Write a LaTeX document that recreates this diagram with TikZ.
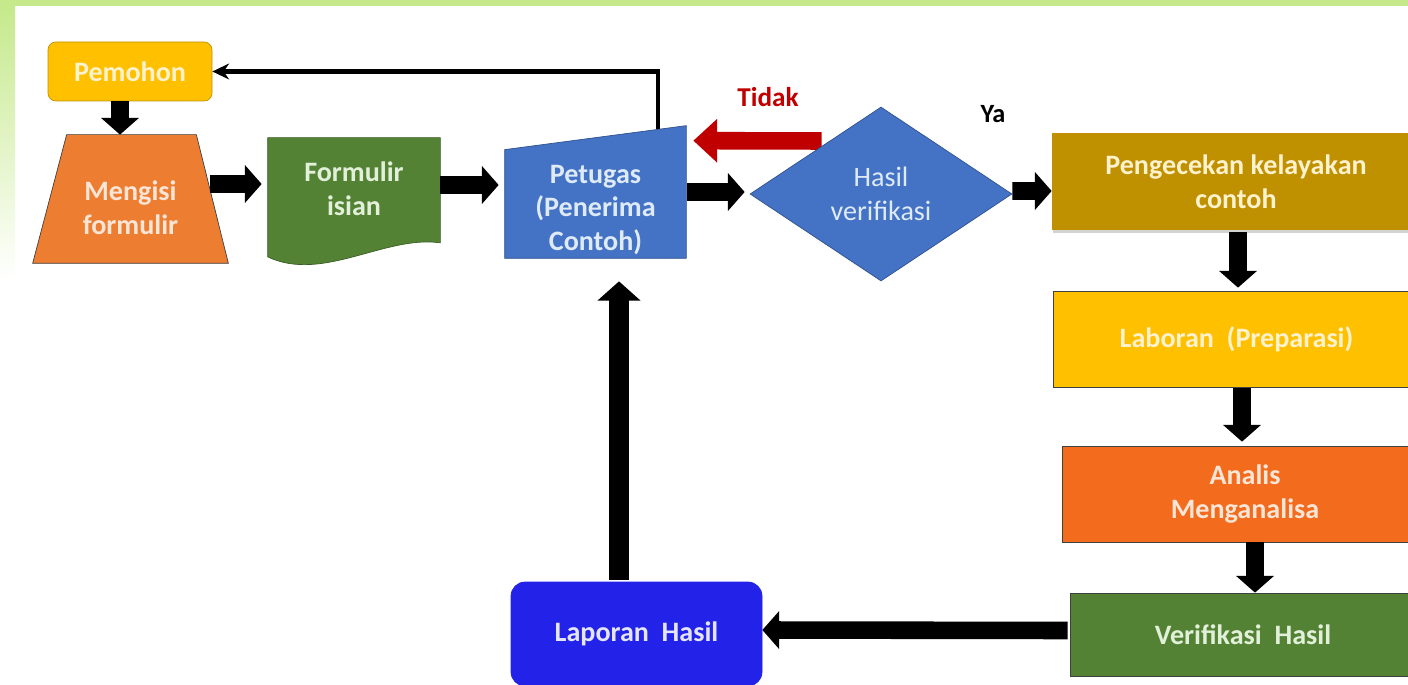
\documentclass[tikz,border=0pt]{standalone}
\usepackage{fontspec}
\setmainfont{Carlito}
\usepackage{tikz}
\usetikzlibrary{shapes.geometric, arrows.meta, calc, shadows, backgrounds}
\definecolor{bggreen}{HTML}{C6E98C}
\definecolor{cGold}{HTML}{FFC000}
\definecolor{cGoldD}{HTML}{BF9000}
\definecolor{cOlive}{HTML}{BF9000}
\definecolor{cOrange}{HTML}{ED7D31}
\definecolor{cOrangeB}{HTML}{F36B1C}
\definecolor{cGreen}{HTML}{548235}
\definecolor{cGreenD}{HTML}{3B5E24}
\definecolor{cBlue}{HTML}{4472C4}
\definecolor{cBlueD}{HTML}{2F528F}
\definecolor{cRoyal}{HTML}{2222E8}
\definecolor{cRed}{HTML}{C00000}
\definecolor{cDark}{HTML}{404040}
\definecolor{tGold}{HTML}{FFF2CC}
\definecolor{tOrange}{HTML}{FBE5D6}
\definecolor{tGreen}{HTML}{E2F0D9}
\definecolor{tBlue}{HTML}{DEEBF7}
\definecolor{tRoyal}{HTML}{E4E4FA}
\newcommand{\pxu}{0.02cm}
\tikzstyle{box} = [rectangle, inner sep=0pt, align=center, font=\fontsize{16}{19.3}\selectfont\bfseries]
\tikzstyle{flowarrow} = [line width=10pt, -{Triangle[width=21pt,length=9.5pt]}]
\tikzstyle{bigarrow} = [line width=11.3pt, -{Triangle[width=24pt,length=11pt]}]
\tikzstyle{redarrow} = [cRed, line width=10pt, -{Triangle[width=24pt,length=13.5pt]}]
\tikzstyle{backline} = [line width=2.3pt, -{Stealth[length=9.5pt,width=9pt]}]

\begin{document}
\begin{tikzpicture}[x=0.02cm,y=-0.02cm]
	\useasboundingbox (0,0) rectangle (1408,685);
	\clip (0,0) rectangle (1408,685);
	% Frame:
	\fill[bggreen] (0,0) rectangle (1408,6);
	\shade[top color=bggreen, bottom color=white] (0,6) rectangle (15,280);

	% Boxes:
	\node[box, fill=cGold, draw=cGoldD, rounded corners=4.5pt, minimum width=164*\pxu, minimum height=59*\pxu, text=tGold] (pemohon) at (130,71.5) {Pemohon};
	\node[box, minimum width=195*\pxu, minimum height=111*\pxu, text=tOrange] (mengisi) at (130.5,207.5) {Mengisi\\formulir};
	\node[box, minimum width=172*\pxu, minimum height=101*\pxu, text=tGreen] (formulir) at (354,188.5) {Formulir\\isian};
	\node[box, minimum width=181*\pxu, minimum height=96*\pxu, text=tBlue] (petugas) at (595.5,210) {Petugas\\(Penerima\\Contoh)};
	\node[diamond, aspect=1.5, inner sep=0pt, minimum width=262*\pxu, minimum height=174*\pxu, fill=cBlue, draw=cBlueD, text=tBlue, align=center, font=\fontsize{16}{19.3}\selectfont] (hasil) at (881,194) {Hasil\\verifikasi};
	\node[box, fill=cOlive, drop shadow={opacity=0.35, shadow xshift=0.5pt, shadow yshift=-1.5pt}, minimum width=368*\pxu, minimum height=97*\pxu, text=tGold] (pengecekan) at (1236,181.5) {Pengecekan kelayakan\\contoh};
	\node[box, fill=cGold, draw=cDark, minimum width=367*\pxu, minimum height=96*\pxu, text=tGold] (laboran) at (1236.5,339) {Laboran\ \ (Preparasi)};
	\node[box, fill=cOrangeB, draw=cDark, minimum width=366*\pxu, minimum height=96*\pxu, text=tOrange] (analis) at (1245,494) {Analis\\Menganalisa};
	\node[box, fill=cGreen, draw=cDark, minimum width=346*\pxu, minimum height=83*\pxu, text=tGreen] (verifikasi) at (1243,634.5) {Verifikasi\ \ Hasil};
	\node[box, fill=cRoyal, draw=cRoyal, rounded corners=8pt, minimum width=251*\pxu, minimum height=104*\pxu, text=tRoyal] (laporan) at (636.5,634) {Laporan\ \ Hasil};

	% Labels:
	\node[font=\fontsize{15.5}{18}\selectfont\bfseries, text=cRed] (tidak) at (768,97) {Tidak};
	\node[font=\fontsize{15}{18}\selectfont\bfseries] (ya) at (993,114) {Ya};

	% Shapes that are not rectangles:
	\begin{scope}[on background layer]
		\filldraw[fill=cOrange, draw=cDark] (mengisi.south west) -- (mengisi.south east) -- ($(mengisi.north east)+(-32,-17)$) -- ($(mengisi.north west)+(34,-17)$) -- cycle;
		\filldraw[fill=cGreen, draw=cGreenD] (formulir.north west) -- (formulir.north east) -- ($(formulir.south east)+(0,3.5)$)
			.. controls ($(formulir.south east)+(-55,-4.5)$) and ($(formulir.south west)+(55,43.5)$) .. ($(formulir.south west)+(0,17.5)$) -- cycle;
		\filldraw[fill=cBlue, draw=cBlueD] (petugas.south west) -- (petugas.south east) -- ($(petugas.north east)+(0,-36)$) -- ($(petugas.north west)+(0,-12)$) -- cycle;
		% Tidak:
		\draw[redarrow] ($(hasil.west)+(72,-53)$) -- ($(petugas.north east)+(7,-21)$);
	\end{scope}

	% Arrows:
	\coordinate (p1) at ($(pemohon.south)+(-10,0)$);
	\draw[flowarrow] (p1) -- ($(p1 |- mengisi.north)+(0,-17)$);
	\draw[flowarrow] ($(mengisi.east)+(-18,-23.5)$) -- ($(formulir.west)+(-6,-4.5)$);
	\draw[flowarrow] ($(formulir.east)+(0,-3.5)$) -- ($(petugas.west)+(-6,-25)$);
	\draw[flowarrow] ($(petugas.east)+(1,-18)$) -- ($(hasil.west)+(-5,-2)$);
	\draw[flowarrow] ($(hasil.east)+(0,-3)$) -- ($(pengecekan.west)+(0,9.5)$);

	\coordinate (p2) at ($(pengecekan.south)+(2,2)$);
	\coordinate (p3) at ($(laboran.south)+(5.5,1)$);
	\coordinate (p4) at ($(analis.south)+(10,0)$);
	\draw[flowarrow] (p2) -- ($(p2 |- laboran.north)+(0,-3)$);
	\draw[flowarrow] (p3) -- ($(p3 |- analis.north)+(0,-4)$);
	\draw[flowarrow] (p4) -- (p4 |- verifikasi.north);

	\draw[flowarrow] ($(verifikasi.west)+(-2,-4)$) -- ($(laporan.east)+(0,-4)$);
	\coordinate (p5) at ($(laporan.north)+(-17.5,-2)$);
	\draw[bigarrow] (p5) -- ($(p5 |- petugas.south)+(0,23)$);

	% Back to Pemohon:
	\coordinate (q) at ($(petugas.north east)+(-28,-33)$);
	\draw[backline] (q) |- (pemohon.east);
\end{tikzpicture}
\end{document}
